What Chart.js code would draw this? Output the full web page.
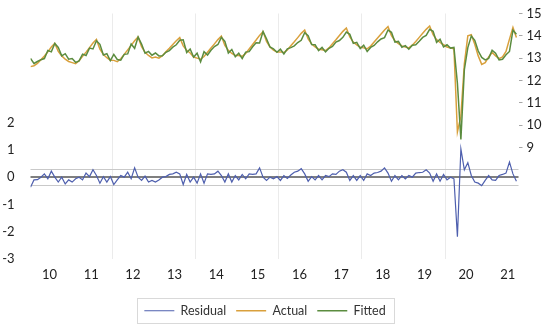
<!DOCTYPE html>
<html>
<head>
<meta charset="utf-8">
<script src="https://cdn.jsdelivr.net/npm/chart.js@4.4.0/dist/chart.umd.min.js"></script>
<style>
  html, body { margin: 0; padding: 0; background: #fff; }
  #wrap { width: 550px; height: 330px; }
</style>
</head>
<body>
<div id="wrap"><canvas id="chart" width="550" height="330"></canvas></div>
<script>
// Rótulos dos anos no eixo x (jan/2010 a set/2021, mensal)
var yearLabels = ['10', '11', '12', '13', '14', '15', '16', '17', '18', '19', '20', '21']

// Actual (eixo direito)
var actual = [
    12.62, 12.66, 12.76, 12.93, 13.10, 13.28, 13.50, 13.66, 13.30, 13.10, 12.95, 12.85,
    12.80, 12.75, 12.88, 13.08, 13.27, 13.47, 13.68, 13.84, 13.40, 13.16, 13.02, 12.91,
    12.90, 12.84, 12.97, 13.17, 13.37, 13.57, 13.78, 13.95, 13.51, 13.26, 13.12, 13.01,
    13.05, 13.00, 13.11, 13.28, 13.44, 13.61, 13.78, 13.92, 13.55, 13.35, 13.23, 13.05,
    13.00, 12.95, 13.07, 13.26, 13.45, 13.64, 13.83, 13.99, 13.57, 13.35, 13.21, 13.12,
    13.12, 13.08, 13.21, 13.41, 13.61, 13.81, 14.02, 14.19, 13.75, 13.50, 13.36, 13.28,
    13.28, 13.25, 13.37, 13.55, 13.73, 13.92, 14.11, 14.26, 13.86, 13.63, 13.50, 13.40,
    13.38, 13.34, 13.46, 13.64, 13.82, 14.01, 14.20, 14.35, 13.95, 13.72, 13.59, 13.49,
    13.46, 13.42, 13.54, 13.72, 13.90, 14.08, 14.26, 14.41, 14.01, 13.78, 13.65, 13.55,
    13.50, 13.46, 13.58, 13.75, 13.93, 14.11, 14.29, 14.44, 14.05, 13.83, 13.70, 13.60,
    13.50, 13.45, 13.42, 9.69, 10.40, 12.75, 14.00, 14.05, 13.62, 13.10, 12.72, 12.80,
    13.05, 13.25, 13.10, 12.98, 13.05, 13.30, 13.85, 14.37, 13.92
]

// Fitted (eixo direito)
var fitted = [
    12.99, 12.76, 12.85, 12.93, 12.98, 13.34, 13.28, 13.66, 13.48, 13.10, 13.20, 12.95,
    12.98, 12.81, 12.88, 13.18, 13.12, 13.45, 13.41, 13.78, 13.62, 13.14, 13.20, 12.89,
    13.17, 12.94, 12.91, 13.17, 13.19, 13.63, 13.44, 13.95, 13.63, 13.22, 13.30, 13.13,
    13.23, 13.10, 13.11, 13.26, 13.34, 13.49, 13.60, 13.80, 13.82, 13.25, 13.41, 13.05,
    13.22, 12.83, 13.29, 13.14, 13.35, 13.52, 13.61, 13.93, 13.75, 13.23, 13.39, 13.06,
    13.22, 12.98, 13.27, 13.29, 13.51, 13.69, 13.68, 14.19, 13.87, 13.50, 13.42, 13.26,
    13.40, 13.19, 13.42, 13.47, 13.55, 13.70, 13.80, 14.14, 14.01, 13.61, 13.60, 13.34,
    13.48, 13.28, 13.44, 13.52, 13.72, 13.79, 13.93, 14.17, 14.07, 13.66, 13.71, 13.43,
    13.58, 13.30, 13.48, 13.57, 13.73, 13.86, 13.92, 14.26, 14.16, 13.72, 13.75, 13.49,
    13.56, 13.40, 13.58, 13.60, 13.76, 13.93, 14.02, 14.29, 14.20, 13.71, 13.85, 13.50,
    13.60, 13.45, 13.48, 11.87, 9.36, 12.48, 13.47, 13.99, 13.80, 13.32, 13.03, 12.92,
    12.99, 13.35, 13.22, 12.92, 12.95, 13.15, 13.30, 14.25, 14.07
]

// Residual (eixo esquerdo)
var residual = [
    -0.37, -0.10, -0.09, 0.00, 0.12, -0.06, 0.22, 0.00, -0.18, 0.00, -0.25, -0.10,
    -0.18, -0.06, 0.00, -0.10, 0.15, 0.02, 0.27, 0.06, -0.22, 0.02, -0.18, 0.02,
    -0.27, -0.10, 0.06, 0.00, 0.18, -0.06, 0.34, 0.00, -0.12, 0.04, -0.18, -0.12,
    -0.18, -0.10, 0.00, 0.02, 0.10, 0.12, 0.18, 0.12, -0.27, 0.10, -0.18, 0.00,
    -0.22, 0.12, -0.22, 0.12, 0.10, 0.12, 0.22, 0.06, -0.18, 0.12, -0.18, 0.06,
    -0.10, 0.10, -0.06, 0.12, 0.10, 0.12, 0.34, 0.00, -0.12, 0.00, -0.06, 0.02,
    -0.12, 0.06, -0.05, 0.08, 0.18, 0.22, 0.31, 0.12, -0.15, 0.02, -0.10, 0.06,
    -0.10, 0.06, 0.02, 0.12, 0.10, 0.22, 0.27, 0.18, -0.12, 0.06, -0.12, 0.06,
    -0.12, 0.12, 0.06, 0.15, 0.17, 0.22, 0.34, 0.15, -0.15, 0.06, -0.10, 0.06,
    -0.06, 0.06, 0.00, 0.15, 0.17, 0.18, 0.27, 0.15, -0.15, 0.12, -0.15, 0.10,
    -0.10, 0.00, -0.06, -2.18, 1.04, 0.27, 0.53, 0.06, -0.18, -0.22, -0.31, -0.12,
    0.06, -0.10, -0.12, 0.06, 0.10, 0.15, 0.55, 0.12, -0.15
]

// Faixa de +/- 1 erro padrão do resíduo
var residualBand = 0.29

// Rótulos visíveis dos eixos y
var leftTicks = [-3, -2, -1, 0, 1, 2]
var rightTicks = [9, 10, 11, 12, 13, 14, 15]

var fontFamily = 'Lato, "Open Sans", sans-serif'

function toPoints(serie) {
    return serie.map((v, i) => ({ x: i, y: v }))
}

// Ticks do eixo x: centro de cada ano (rótulo) e início dos anos pares (grade)
var yearCenters = yearLabels.map((l, k) => k * 12 + 5.5)
var gridYears = [23.5, 47.5, 71.5, 95.5, 119.5]

// Linhas do resíduo (zero e +/- erro padrão) e borda da legenda
var extras = {
    id: 'extras',
    afterLayout(chart) {
        chart.legend.left -= 10
        chart.legend.right -= 10
    },
    beforeDatasetsDraw(chart) {
        let ctx = chart.ctx
        let y = chart.scales.y
        let area = chart.chartArea
        ctx.save()
        ctx.strokeStyle = '#c9c9c9'
        ctx.lineWidth = 1
        ;[residualBand, -residualBand].forEach(v => {
            let py = Math.round(y.getPixelForValue(v)) + 0.5
            ctx.beginPath()
            ctx.moveTo(area.left, py)
            ctx.lineTo(area.right, py)
            ctx.stroke()
        })
        ctx.strokeStyle = '#7f7f7f'
        ctx.lineWidth = 2
        let p0 = Math.round(y.getPixelForValue(0))
        ctx.beginPath()
        ctx.moveTo(area.left, p0)
        ctx.lineTo(area.right, p0)
        ctx.stroke()
        ctx.restore()
    },
    afterDraw(chart) {
        let boxes = chart.legend.legendHitBoxes
        if (!boxes || !boxes.length) return
        let ctx = chart.ctx
        let first = boxes[0]
        let last = boxes[boxes.length - 1]
        let cy = first.top + first.height / 2
        let left = Math.round(first.left - 7) + 0.5
        let right = Math.round(last.left + last.width + 8) + 0.5
        ctx.save()
        ctx.strokeStyle = '#d9d9d9'
        ctx.lineWidth = 1
        ctx.strokeRect(left, Math.round(cy - 12.5) + 0.5, right - left, 25)
        ctx.restore()
    }
}

var chart = new Chart(document.getElementById('chart').getContext('2d'), {
    type: 'line',
    data: {
        datasets: [{
            label: 'Residual',
            data: toPoints(residual),
            yAxisID: 'y',
            borderColor: '#4e5fae',
            borderWidth: 1.2,
            order: 0
        }, {
            label: 'Actual',
            data: toPoints(actual),
            yAxisID: 'y1',
            borderColor: '#d9a03c',
            borderWidth: 1.5,
            order: 2
        }, {
            label: 'Fitted',
            data: toPoints(fitted),
            yAxisID: 'y1',
            borderColor: '#5b8c3f',
            borderWidth: 1.5,
            order: 1
        }]
    },
    options: {
        responsive: false,
        animation: false,
        events: [],
        layout: { padding: { top: 13.5, left: 0, right: 0, bottom: 3 } },
        elements: {
            point: { radius: 0 },
            line: { tension: 0, fill: false }
        },
        plugins: {
            tooltip: { enabled: false },
            legend: {
                position: 'bottom',
                labels: {
                    usePointStyle: true,
                    pointStyle: 'line',
                    pointStyleWidth: 30,
                    boxHeight: 13,
                    padding: 10,
                    color: '#333',
                    font: { family: fontFamily, size: 12.5 },
                    sort: (a, b) => a.datasetIndex - b.datasetIndex
                }
            }
        },
        scales: {
            x: {
                type: 'linear',
                min: 0,
                max: 140.6,
                afterBuildTicks(scale) {
                    scale.ticks = yearCenters.concat(gridYears).map(v => ({ value: v }))
                },
                afterFit(scale) { scale.height = 35.5 },
                border: { display: false },
                grid: {
                    drawTicks: false,
                    color: ctx => ctx.tick && gridYears.includes(ctx.tick.value) ? '#ebebeb' : 'rgba(0,0,0,0)'
                },
                ticks: {
                    autoSkip: false,
                    maxRotation: 0,
                    padding: 8,
                    color: '#222',
                    font: { family: fontFamily, size: 13 },
                    callback: v => {
                        let k = yearCenters.indexOf(v)
                        return k >= 0 ? yearLabels[k] : ''
                    }
                }
            },
            y: {
                position: 'left',
                min: -3,
                max: 6,
                afterFit(scale) {
                    scale.width = 30.5
                    scale.paddingTop = 0
                    scale.paddingBottom = 0
                },
                border: { display: false },
                grid: { display: false },
                ticks: {
                    stepSize: 1,
                    padding: 8,
                    color: '#222',
                    font: { family: fontFamily, size: 13 },
                    callback: v => leftTicks.includes(v) ? String(v) : ''
                }
            },
            y1: {
                position: 'right',
                min: 4,
                max: 15,
                afterFit(scale) {
                    scale.width = 31.5
                    scale.paddingTop = 0
                    scale.paddingBottom = 0
                },
                border: { display: false },
                grid: {
                    drawOnChartArea: false,
                    drawTicks: true,
                    tickLength: 4,
                    color: 'rgba(0,0,0,0)',
                    tickColor: ctx => ctx.tick && rightTicks.includes(ctx.tick.value) ? '#a6a6a6' : 'rgba(0,0,0,0)'
                },
                ticks: {
                    stepSize: 1,
                    padding: 4,
                    color: '#222',
                    font: { family: fontFamily, size: 13 },
                    callback: v => rightTicks.includes(v) ? String(v) : ''
                }
            }
        }
    },
    plugins: [extras]
})
</script>
</body>
</html>
